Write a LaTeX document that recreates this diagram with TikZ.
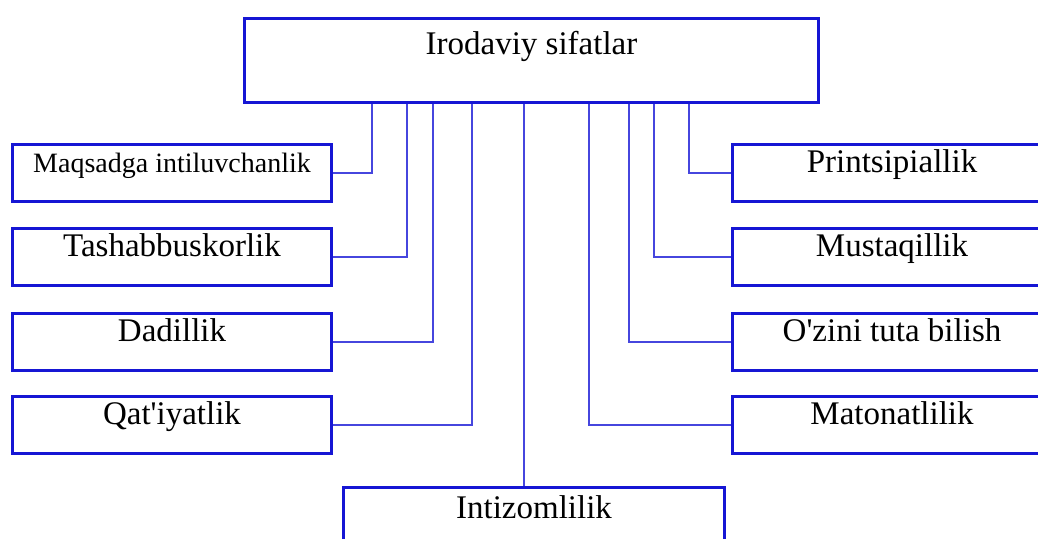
\documentclass[tikz,border=0pt]{standalone}
\usepackage{fontspec}
\setmainfont[Ligatures=TeXOff]{Liberation Serif}
\definecolor{boxblue}{RGB}{22,22,212}
\definecolor{linkblue}{RGB}{70,70,222}
\begin{document}
\begin{tikzpicture}[x=1pt,y=-1pt,
  box/.style={draw=boxblue,line width=3pt,rectangle,anchor=north west,inner xsep=0pt,inner ysep=0pt,
    text height=28pt,text depth=29pt,font=\fontsize{33}{38}\selectfont},
  sidebox/.style={box,minimum width=319pt},
  link/.style={draw=linkblue,line width=1.5pt}]
\clip (0,0) rectangle (1038,538);
\fill[white] (0,0) rectangle (1038,538);
% top
\node[box,minimum width=574pt,text height=36pt,text depth=48pt] (top) at (243,17) {Irodaviy sifatlar};
% left column
\node[sidebox,font=\fontsize{28}{32}\selectfont] (maq) at (11,143) {Maqsadga intiluvchanlik};
\node[sidebox] (tas) at (11,227) {Tashabbuskorlik};
\node[sidebox] (dad) at (11,312) {Dadillik};
\node[sidebox] (qat) at (11,395) {Qat'iyatlik};
% right column
\node[sidebox] (pri) at (731,143) {Printsipiallik};
\node[sidebox] (mus) at (731,227) {Mustaqillik};
\node[sidebox] (ozi) at (731,312) {O'zini tuta bilish};
\node[sidebox] (mat) at (731,395) {Matonatlilik};
% bottom
\node[box,minimum width=381pt,text height=31pt,text depth=30pt] (int) at (342,486) {Intizomlilik};
% connectors
\draw[link] ([xshift=129pt]top.south west) |- (maq.east);
\draw[link] ([xshift=164pt]top.south west) |- (tas.east);
\draw[link] ([xshift=190pt]top.south west) |- (dad.east);
\draw[link] ([xshift=229pt]top.south west) |- (qat.east);
\draw[link] ([xshift=281pt]top.south west) -- ([xshift=182pt]int.north west);
\draw[link] ([xshift=346pt]top.south west) |- (mat.west);
\draw[link] ([xshift=386pt]top.south west) |- (ozi.west);
\draw[link] ([xshift=411pt]top.south west) |- (mus.west);
\draw[link] ([xshift=446pt]top.south west) |- (pri.west);
\end{tikzpicture}
\end{document}
